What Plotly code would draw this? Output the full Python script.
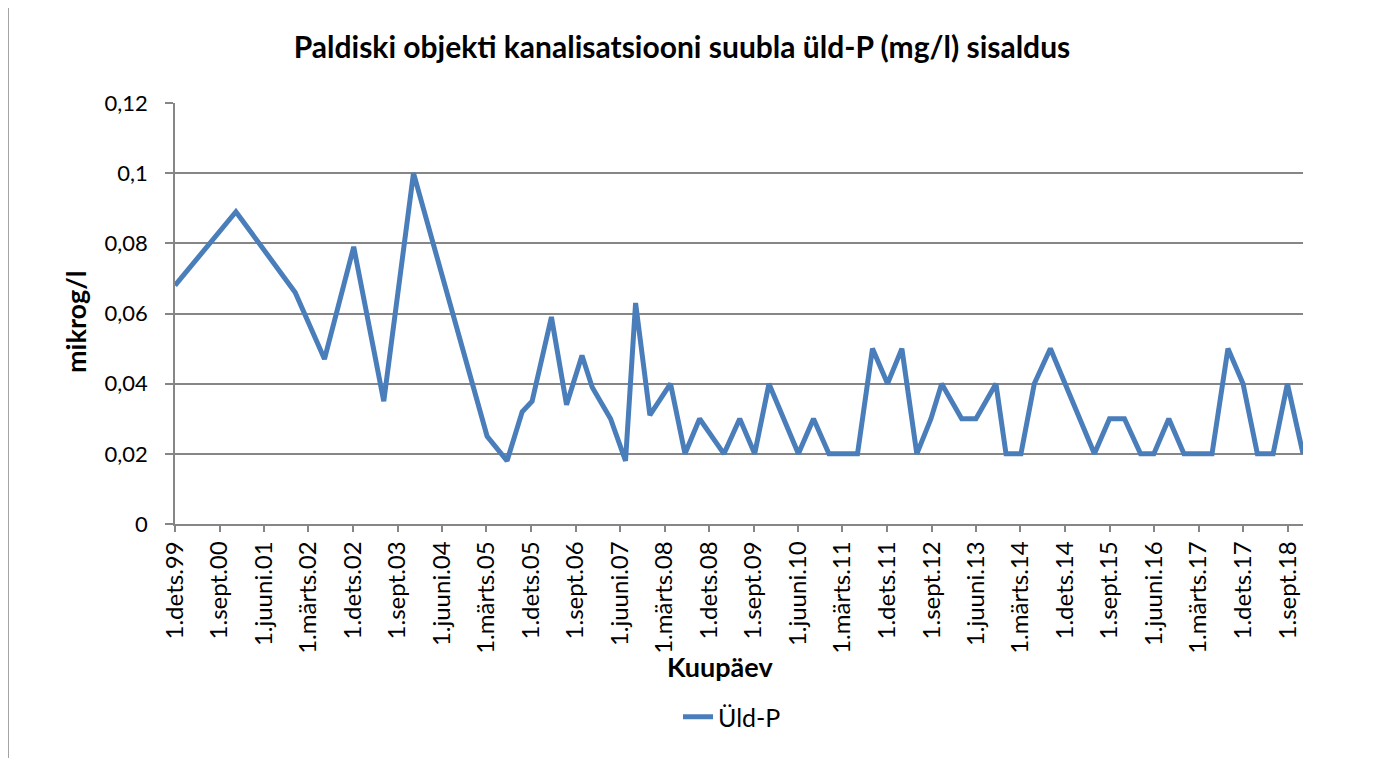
import plotly.graph_objects as go
import pandas as pd

# Data
dates = [
    "1999-12-01", "2000-12-10", "2001-12-10", "2002-06-08", "2002-12-05", "2003-06-08",
    "2003-12-08", "2005-03-05", "2005-07-06", "2005-10-07", "2005-12-07", "2006-04-05",
    "2006-07-07", "2006-10-10", "2006-12-12", "2007-04-04", "2007-07-05", "2007-09-05",
    "2007-12-02", "2008-04-07", "2008-07-05", "2008-10-03", "2009-03-02", "2009-06-07",
    "2009-09-07", "2009-12-04", "2010-06-03", "2010-09-04", "2010-12-08", "2011-03-06",
    "2011-06-02", "2011-09-02", "2011-12-04", "2012-03-01", "2012-06-01", "2012-08-27",
    "2012-11-01", "2013-03-04", "2013-05-31", "2013-10-01", "2013-12-02", "2014-03-04",
    "2014-05-25", "2014-09-01", "2015-05-30", "2015-08-31", "2015-12-01", "2016-03-09",
    "2016-05-30", "2016-08-30", "2016-12-01", "2017-02-25", "2017-05-23", "2017-08-29",
    "2017-11-30", "2018-02-26", "2018-06-03", "2018-08-30", "2018-12-04",
]
uld_p = [
    0.068, 0.089, 0.066, 0.047, 0.079, 0.035,
    0.100, 0.025, 0.018, 0.032, 0.035, 0.059,
    0.034, 0.048, 0.039, 0.030, 0.018, 0.063,
    0.031, 0.040, 0.020, 0.030, 0.020, 0.030,
    0.020, 0.040, 0.020, 0.030, 0.020, 0.020,
    0.020, 0.050, 0.040, 0.050, 0.020, 0.030,
    0.040, 0.030, 0.030, 0.040, 0.020, 0.020,
    0.040, 0.050, 0.020, 0.030, 0.030, 0.020,
    0.020, 0.030, 0.020, 0.020, 0.020, 0.050,
    0.040, 0.020, 0.020, 0.040, 0.020,
]

tick_labels = [
    "1.dets.99", "1.sept.00", "1.juuni.01", "1.märts.02", "1.dets.02", "1.sept.03",
    "1.juuni.04", "1.märts.05", "1.dets.05", "1.sept.06", "1.juuni.07", "1.märts.08",
    "1.dets.08", "1.sept.09", "1.juuni.10", "1.märts.11", "1.dets.11", "1.sept.12",
    "1.juuni.13", "1.märts.14", "1.dets.14", "1.sept.15", "1.juuni.16", "1.märts.17",
    "1.dets.17", "1.sept.18",
]
tick_dates = pd.date_range("1999-12-01", periods=len(tick_labels), freq="9MS")

title_text = "Paldiski objekti kanalisatsiooni suubla üld-P (mg/l) sisaldus"
series_name = "Üld-P"

FONT = "Lato, sans-serif"
GRID = "#868686"
W, H = 1377, 758
OFF = 8  # page body offset seen in the screenshot
# target positions in screenshot pixels
SL, SR, ST, SB = 175, 1303, 103, 524
L, R, T, B = SL - OFF, SR - OFF, ST - OFF, SB - OFF


def px_x(p):
    return (p - SL) / (SR - SL)


def px_y(p):
    return (SB - p) / (SB - ST)


fig = go.Figure()
fig.add_trace(go.Scatter(
    x=pd.to_datetime(dates), y=uld_p, mode="lines", name=series_name,
    line=dict(color="#4A7EBB", width=5),
))

fig.update_layout(
    template="none",
    width=W, height=H,
    margin=dict(l=L, r=W - R, t=T, b=H - B, pad=0),
    paper_bgcolor="white", plot_bgcolor="white",
    font=dict(family=FONT, size=24, color="black"),
    separators=", ",
    title=dict(text="<b>" + title_text + "</b>", x=(682 - OFF) / W, xref="container",
               xanchor="center", y=1 - (47 - OFF) / H, yref="container", yanchor="middle",
               font=dict(family=FONT, size=30, color="black"), automargin=False),
    showlegend=True,
    legend=dict(orientation="h", x=px_x(678), xanchor="left", y=px_y(717), yanchor="middle",
                font=dict(family=FONT, size=25), bgcolor="rgba(0,0,0,0)", borderwidth=0),
    xaxis=dict(
        type="date", range=[pd.Timestamp(dates[0]), pd.Timestamp(dates[-1])],
        tickmode="array", tickvals=tick_dates, ticktext=tick_labels, tickangle=-90,
        ticks="outside", ticklen=6, tickcolor=GRID, tickwidth=1.5,
        showgrid=False, showline=True, linecolor=GRID, linewidth=1.5,
        tickfont=dict(family=FONT, size=24), zeroline=False, automargin=False,
    ),
    yaxis=dict(
        range=[0, 0.12], dtick=0.02, tick0=0,
        ticks="outside", ticklen=8, tickcolor=GRID, tickwidth=1.5,
        showgrid=True, gridcolor=GRID, gridwidth=1.5,
        showline=True, linecolor=GRID, linewidth=1.5, zeroline=False,
        tickfont=dict(family=FONT, size=22), ticklabelstandoff=13, automargin=False,
    ),
    annotations=[
        dict(text="<b>mikrog/l</b>", x=px_x(75), y=px_y(322), xref="paper", yref="paper",
             xanchor="center", yanchor="middle",
             showarrow=False, textangle=-90, font=dict(family=FONT, size=27)),
        dict(text="<b>Kuupäev</b>", x=px_x(720), y=px_y(666), xref="paper", yref="paper",
             xanchor="center", yanchor="middle",
             showarrow=False, font=dict(family=FONT, size=27)),
    ],
    shapes=[
        dict(type="rect", xref="paper", yref="paper",
             x0=px_x(8), x1=px_x(W + 20), y0=px_y(H + 20), y1=px_y(6),
             line=dict(color=GRID, width=1.5), fillcolor="rgba(0,0,0,0)", layer="below"),
    ],
)

fig.write_html("out.html")
